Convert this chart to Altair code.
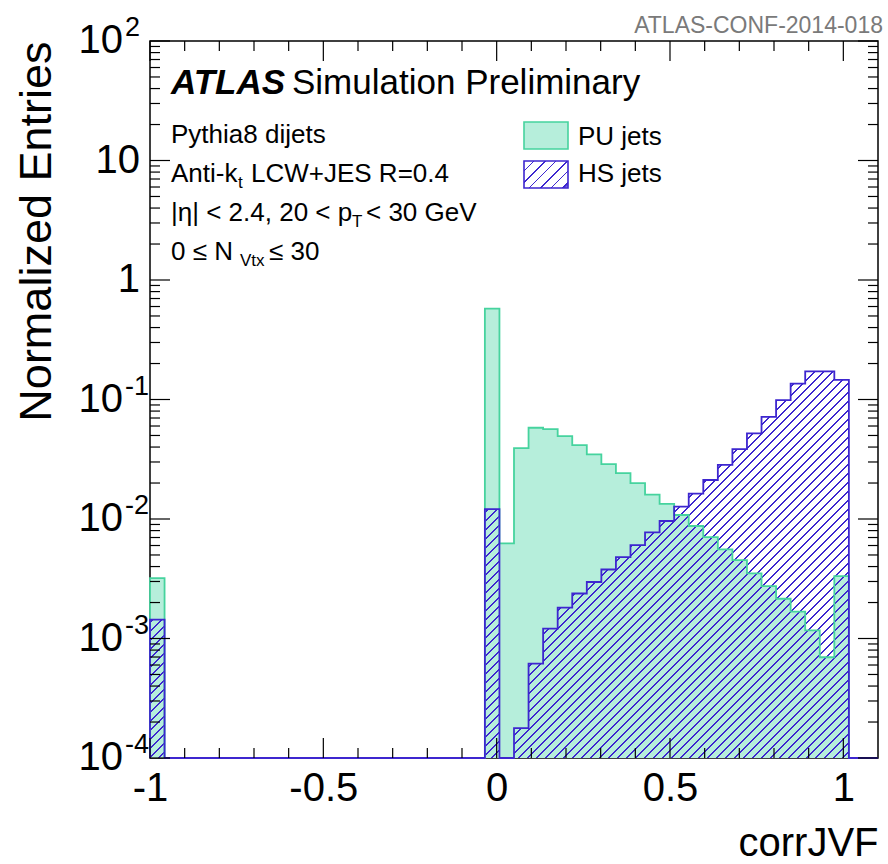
import math
import altair as alt
import pandas as pd

FONT = "Liberation Sans"
W, H = 728, 717
FLOOR = 1e-4

# ---- histogram definition (50 bins from -1 to 1.1) ----
bin_start = -1.0
bin_width = 0.042
x_max = 1.1

pu_values = [3.2e-3,
             0, 0, 0, 0, 0, 0, 0, 0, 0, 0, 0, 0, 0, 0, 0, 0, 0, 0, 0, 0, 0, 0,
             0.575, 6.25e-3, 0.0392, 0.058, 0.0565, 0.0493, 0.0415, 0.0347, 0.0288,
             0.0242, 0.020, 0.016, 0.0134, 0.0108, 8.74e-3, 7.06e-3, 5.57e-3,
             4.53e-3, 3.51e-3, 2.74e-3, 2.15e-3, 1.68e-3, 1.17e-3, 6.97e-4,
             3.33e-3, 0, 0]
hs_values = [1.44e-3,
             0, 0, 0, 0, 0, 0, 0, 0, 0, 0, 0, 0, 0, 0, 0, 0, 0, 0, 0, 0, 0, 0,
             0.0121, 0, 1.78e-4, 6.16e-4, 1.21e-3, 1.81e-3, 2.38e-3, 2.97e-3,
             3.78e-3, 4.8e-3, 6.05e-3, 7.73e-3, 9.62e-3, 0.0127, 0.0163, 0.0212,
             0.0284, 0.0384, 0.052, 0.0716, 0.0988, 0.136, 0.172, 0.172, 0.146,
             0, 0]

x_major_ticks = [-1, -0.5, 0, 0.5, 1]
x_minor_ticks = [-0.9, -0.8, -0.7, -0.6, -0.4, -0.3, -0.2, -0.1,
                 0.1, 0.2, 0.3, 0.4, 0.6, 0.7, 0.8, 0.9]
decade_values = [100, 10, 1, 0.1, 0.01, 0.001, 0.0001]
decade_base = ["10", "10", "1", "10", "10", "10", "10"]
decade_exp = ["2", "", "", "-1", "-2", "-3", "-4"]
y_minor_ticks = [m * 10.0 ** e for e in range(-4, 2) for m in range(2, 10)]

PU_FILL = "#b6eedb"
PU_LINE = "#46d39e"
HS_LINE = "#3d26cf"


def step_table(vals):
    rows = [{"i": 0, "x": bin_start, "v": FLOOR}]
    for k, val in enumerate(vals):
        rows.append({"i": k + 1, "x": round(bin_start + k * bin_width, 4),
                     "v": max(val, FLOOR)})
    rows.append({"i": len(vals) + 1, "x": x_max, "v": FLOOR})
    return pd.DataFrame(rows)


pu_df = step_table(pu_values)
hs_df = step_table(hs_values)


def hatch(width_px, height_px, period_px, line_px, color):
    r = height_px / width_px
    s = 1.2
    denom = s * width_px * (1 + r * r)
    p = period_px / denom
    w = line_px / denom
    clear = "rgba(61,38,207,0)"
    stops = []
    t = 0.0
    while t + p <= 1.0:
        stops += [{"offset": round(t, 5), "color": clear},
                  {"offset": round(t + p - w, 5), "color": clear},
                  {"offset": round(t + p - w, 5), "color": color},
                  {"offset": round(t + p, 5), "color": color}]
        t += p
    stops.append({"offset": 1.0, "color": clear})
    return {"gradient": "linear", "x1": 0, "y1": 0, "x2": s, "y2": s * r,
            "stops": stops}


hs_area_h = H * (math.log10(max(hs_values)) - math.log10(FLOOR)) / 6.0
HS_HATCH = hatch(W, hs_area_h, 9.0, 1.5, HS_LINE)
LEG_HATCH = hatch(44, 27, 11.0, 1.5, HS_LINE)

xs = alt.Scale(domain=[-1, 1.1], nice=False, zero=False)
ys = alt.Scale(type="log", domain=[1e-4, 100], nice=False)

XAX = alt.Axis(values=x_major_ticks, ticks=False, domain=False, grid=False,
               labelFontSize=40, labelFont=FONT, labelColor="black",
               labelPadding=10, labelFlush=False,
               labelExpr="'' + datum.value",
               title="corrJVF", titleFont=FONT, titleFontSize=40,
               titleFontWeight="normal", titleColor="black",
               titleAlign="right", titleAnchor="end", titleX=W, titleY=97,
               titleBaseline="alphabetic")
YAX = alt.Axis(labels=False, ticks=False, domain=False, grid=False,
               title="Normalized Entries", titleFont=FONT, titleFontSize=45,
               titleFontWeight="normal", titleColor="black", titleAngle=270,
               titleAlign="right", titleBaseline="alphabetic",
               titleX=-100, titleY=0)

X = alt.X("x:Q", scale=xs, axis=XAX)
Y = alt.Y("v:Q", scale=ys, axis=YAX, stack=None)

pu_area = alt.Chart(pu_df[pu_df.i > 0]).mark_area(
    interpolate="step-after", fill=PU_FILL).encode(x=X, y=Y, y2=alt.datum(FLOOR))
hs_area = alt.Chart(hs_df[hs_df.i > 0]).mark_area(
    interpolate="step-after", fill=HS_HATCH).encode(x=X, y=Y, y2=alt.datum(FLOOR))
pu_line = alt.Chart(pu_df).mark_line(
    interpolate="step-after", color=PU_LINE, strokeWidth=1.8).encode(
    x=X, y=Y, order=alt.Order("i:Q"))
hs_line = alt.Chart(hs_df).mark_line(
    interpolate="step-after", color=HS_LINE, strokeWidth=1.8).encode(
    x=X, y=Y, order=alt.Order("i:Q"))

# ---- ticks (ROOT style, inside the frame on all sides) ----
xmaj = pd.DataFrame({"x": x_major_ticks})
xmin = pd.DataFrame({"x": x_minor_ticks})
ymaj = pd.DataFrame({"v": decade_values})
ymin = pd.DataFrame({"v": y_minor_ticks})

tick_layers = []
for df, L in ((xmaj, 20), (xmin, 10)):
    tick_layers.append(alt.Chart(df).mark_rule(color="black", strokeWidth=1.2).encode(
        x=X, y=alt.value(H), y2=alt.value(H - L)))
    tick_layers.append(alt.Chart(df).mark_rule(color="black", strokeWidth=1.2).encode(
        x=X, y=alt.value(0), y2=alt.value(L)))
for df, L in ((ymaj, 20), (ymin, 10)):
    tick_layers.append(alt.Chart(df).mark_rule(color="black", strokeWidth=1.2).encode(
        y=Y, x=alt.value(0), x2=alt.value(L)))
    tick_layers.append(alt.Chart(df).mark_rule(color="black", strokeWidth=1.2).encode(
        y=Y, x=alt.value(W), x2=alt.value(W - L)))

# ---- y tick labels with superscripts ----
ylab = pd.DataFrame({"v": decade_values, "base": decade_base, "exp": decade_exp})
ylab_plain = alt.Chart(ylab).transform_filter("datum.exp == ''").mark_text(
    align="right", baseline="middle", font=FONT, fontSize=40, color="black").encode(
    y=Y, x=alt.value(-10), text="base:N")
ylab_base = alt.Chart(ylab).transform_filter("datum.exp != ''").mark_text(
    align="right", baseline="middle", font=FONT, fontSize=40, color="black").encode(
    y=Y, x=alt.value(-27), text="base:N")
ylab_exp = alt.Chart(ylab).transform_filter("datum.exp != ''").mark_text(
    align="left", baseline="middle", font=FONT, fontSize=27, color="black",
    dy=-13).encode(y=Y, x=alt.value(-25), text="exp:N")


def label(text, x, y, size, color="black", align="left", **kw):
    return alt.Chart(pd.DataFrame({"t": [text]})).mark_text(
        align=align, baseline="alphabetic", font=FONT, fontSize=size,
        color=color, **kw).encode(x=alt.value(x), y=alt.value(y), text="t:N")


texts = [
    label("ATLAS-CONF-2014-018", W + 5, -8, 23, color="#7a7a7a", align="right"),
    label("ATLAS", 21, 53, 35, fontWeight="bold", fontStyle="italic"),
    label("Simulation Preliminary", 142, 53, 35),
    label("Pythia8 dijets", 21, 102, 26),
    label("Anti-k", 21, 141, 26),
    label("t", 88, 147, 17),
    label("LCW+JES R=0.4", 101, 141, 26),
    label("|\u03b7| < 2.4, 20 < p", 21, 180, 26),
    label("T", 202, 186, 17),
    label("< 30 GeV", 216, 180, 26),
    label("0 \u2264 N", 21, 219, 26),
    label("Vtx", 90, 225, 17),
    label("\u2264 30", 119, 219, 26),
    label("PU jets", 428, 104, 26),
    label("HS jets", 428, 141, 26),
]

one = pd.DataFrame({"k": [0]})
leg_pu = alt.Chart(one).mark_rect(fill=PU_FILL, stroke=PU_LINE, strokeWidth=1.6).encode(
    x=alt.value(374), x2=alt.value(418), y=alt.value(81), y2=alt.value(108))
leg_hs = alt.Chart(one).mark_rect(fill=LEG_HATCH, stroke=HS_LINE, strokeWidth=1.6).encode(
    x=alt.value(374), x2=alt.value(418), y=alt.value(120), y2=alt.value(147))

chart = alt.layer(
    pu_area, hs_area, pu_line, hs_line, *tick_layers,
    ylab_plain, ylab_base, ylab_exp, leg_pu, leg_hs, *texts
).properties(
    width=W, height=H,
    autosize=alt.AutoSizeParams(type="none"),
    padding={"left": 150, "top": 41, "right": 10, "bottom": 106},
    background="white",
).configure_view(stroke="black", strokeWidth=1.5)

chart.save("out.html", embed_options={"renderer": "svg", "actions": False})
